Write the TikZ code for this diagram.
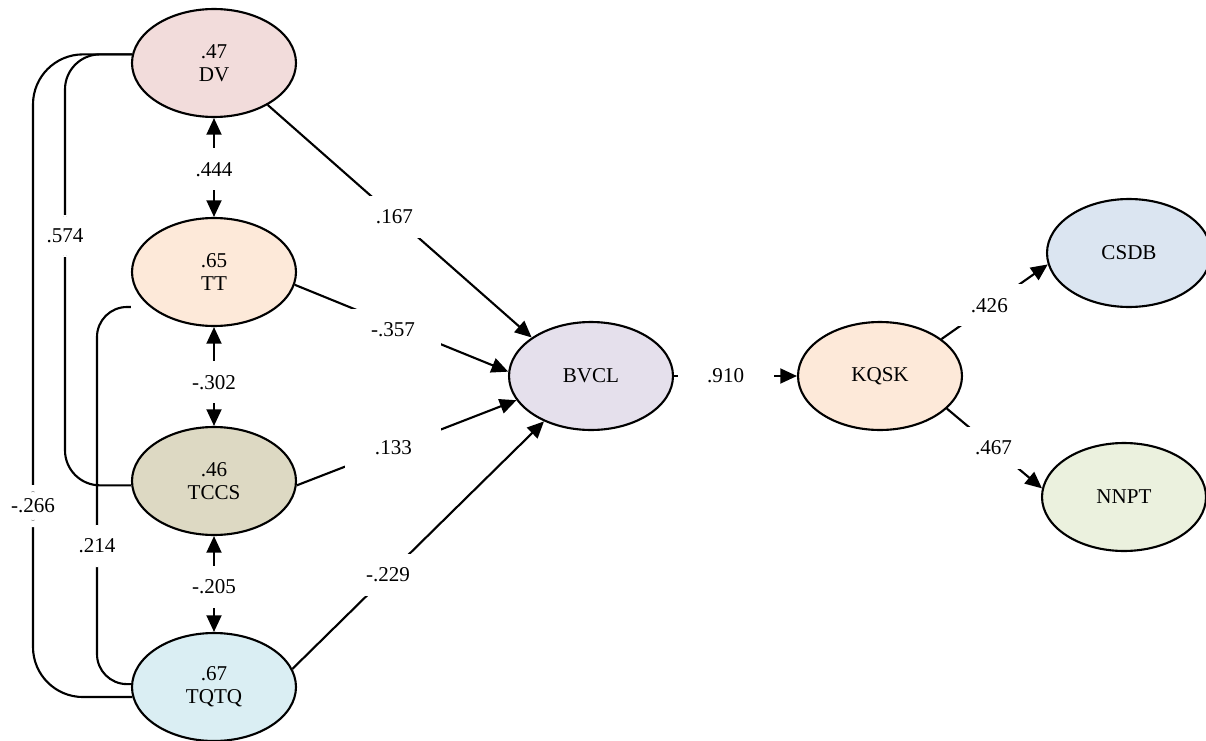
\documentclass[tikz,border=0pt]{standalone}
\usepackage{fontspec}
\setmainfont{Liberation Serif}
\usepackage{tikz}
\usetikzlibrary{arrows.meta,shapes.geometric}
\definecolor{ink}{HTML}{000000}
\definecolor{lPink}{HTML}{F2DCDB}
\definecolor{lPeach}{HTML}{FDE9D9}
\definecolor{lTan}{HTML}{DDD9C3}
\definecolor{lSky}{HTML}{DAEEF3}
\definecolor{lLilac}{HTML}{E5E0EC}
\definecolor{lSteel}{HTML}{DBE5F1}
\definecolor{lSage}{HTML}{EBF1DE}
\newcommand{\semfont}{\fontsize{12}{13.3}\selectfont}
\tikzset{
  lat/.style={ellipse, draw=ink, line width=1.2pt, minimum width=3.28cm, minimum height=2.16cm, inner sep=0pt, align=center, font=\semfont, text=ink},
  coef/.style={fill=white, minimum width=1.92cm, minimum height=0.84cm, inner sep=0pt, font=\semfont, text=ink},
}

\begin{document}
\begin{tikzpicture}[x=0.02cm, y=-0.02cm,
  arr/.style={-{Triangle[length=9.5pt,width=8.5pt]}, line width=1.2pt, draw=ink},
  dbl/.style={{Triangle[length=9.5pt,width=8.5pt]}-{Triangle[length=9.5pt,width=8.5pt]}, line width=1.2pt, draw=ink},
  cov/.style={line width=1.2pt, draw=ink},
  coefv/.style={coef, minimum width=1cm}]
\useasboundingbox (0,0) rectangle (1206,740);
\node[lat, fill=lPink] (DV) at (214,63) {.47\\DV};
\node[lat, fill=lPeach] (TT) at (214,272) {.65\\TT};
\node[lat, fill=lTan] (TCCS) at (214,481) {.46\\TCCS};
\node[lat, fill=lSky] (TQTQ) at (214,687) {.67\\TQTQ};
\node[lat, fill=lLilac] (BVCL) at (591,376) {BVCL};
\node[lat, fill=lPeach] (KQSK) at (880,376) {KQSK};
\node[lat, fill=lSteel] (CSDB) at (1129,253) {CSDB};
\node[lat, fill=lSage] (NNPT) at (1124,497) {NNPT};
\coordinate (k574) at (65,236);
\coordinate (k266) at (33,506);
\coordinate (k214) at (97,546);
\draw[dbl] (DV) -- node[coef, pos=.52]{.444} (TT);
\draw[dbl] (TT) -- node[coef, pos=.56]{-.302} (TCCS);
\draw[dbl] (TCCS) -- node[coef, pos=.53]{-.205} (TQTQ);
\draw[cov, rounded corners=1cm] (DV.174) -| (k266) node[coefv]{-.266} |- (TQTQ.187);
\draw[cov, rounded corners=0.7cm] (DV.174) -| (k574) node[coefv]{.574} |- (TCCS.183);
\draw[cov, rounded corners=0.6cm] ([yshift=-0.7cm]TT.west) -| (k214) node[coefv]{.214} |- (TQTQ.178);
\draw[arr] (DV.-38) -- node[coef, pos=.48]{.167} (BVCL.147);
\draw[arr] (TT.-9) -- node[coef, pos=.46, yshift=-0.1cm]{-.357} (BVCL.177);
\draw[arr] (TCCS.-3) -- node[coef, pos=.44]{.133} (BVCL.198);
\draw[arr] (TQTQ.13) -- node[coef, pos=.38]{-.229} (BVCL.224);
\draw[arr] (BVCL) -- node[coef, pos=.42]{.910} (KQSK);
\draw[arr] (KQSK.31) -- node[coef, pos=.45]{.426} (CSDB.188);
\draw[arr] (KQSK.-26) -- node[coef, pos=.49]{.467} (NNPT.174);
\end{tikzpicture}
\end{document}
